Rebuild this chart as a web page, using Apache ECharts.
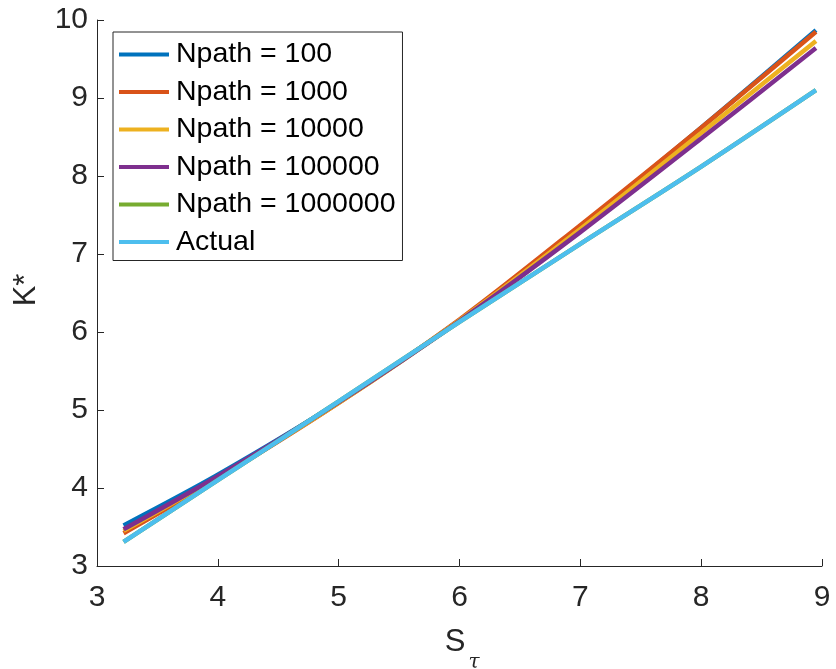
<!DOCTYPE html>
<html lang="en">
<head>
    <meta charset="UTF-8">
    <title>K* vs S</title>
    <style>
        html,body{padding: 0;margin: 0;background: #fff;}
        #chart{width: 836px;height: 669px;}
    </style>
    <script src="https://cdn.jsdelivr.net/npm/echarts@6/dist/echarts.min.js"></script>
</head>
<body>
<div id="chart"></div>
<script>
    // S_tau sample points
    var sVals = [3.22, 4, 5, 6, 7, 8, 8.95];
    var seriesNames = ['Npath = 100', 'Npath = 1000', 'Npath = 10000', 'Npath = 100000', 'Npath = 1000000', 'Actual'];
    var kNpath100 = [3.52, 4.17, 5.10, 6.15, 7.35, 8.62, 9.87];
    var kNpath1000 = [3.42, 4.12, 5.09, 6.16, 7.37, 8.62, 9.85];
    var kNpath10000 = [3.45, 4.14, 5.09, 6.15, 7.32, 8.55, 9.73];
    var kNpath100000 = [3.47, 4.15, 5.10, 6.14, 7.28, 8.48, 9.64];
    var kNpath1000000 = [3.31, 4.10, 5.11, 6.13, 7.13, 8.12, 9.10];
    var kActual = [3.31, 4.10, 5.11, 6.13, 7.13, 8.12, 9.10];
    var xTicks = [3, 4, 5, 6, 7, 8, 9];
    var yTicks = [3, 4, 5, 6, 7, 8, 9, 10];

    var colors = ['#0072BD', '#D95319', '#EDB120', '#7E2F8E', '#77AC30', '#4DBEEE'];
    var allK = [kNpath100, kNpath1000, kNpath10000, kNpath100000, kNpath1000000, kActual];
    var font = "'Liberation Sans', Arial, sans-serif";

    function pairs(ys){
        var out = [];
        for (var i = 0; i < sVals.length; i++) out.push([sVals[i], ys[i]]);
        return out;
    }

    var series = [];
    for (var i = 0; i < seriesNames.length; i++) {
        series.push({
            name: seriesNames[i],
            type: 'line',
            data: pairs(allK[i]),
            smooth: 0.3,
            showSymbol: false,
            lineStyle: {width: 4.5, color: colors[i]},
            itemStyle: {color: colors[i]},
            z: 2 + i
        });
    }

    var myChart = echarts.init(document.getElementById('chart'));
    var axisTxt = {color: '#262626', fontSize: 30, fontFamily: font};
    myChart.setOption({
        animation: false,
        color: colors,
        grid: {left: 97, right: 14, top: 20, bottom: 103},
        xAxis: {
            type: 'value', min: xTicks[0], max: xTicks[xTicks.length - 1], interval: 1,
            axisLine: {lineStyle: {color: '#262626', width: 1}},
            axisTick: {inside: true, length: 7, lineStyle: {color: '#262626'}},
            axisLabel: Object.assign({margin: 17}, axisTxt),
            splitLine: {show: false}
        },
        yAxis: {
            type: 'value', min: yTicks[0], max: yTicks[yTicks.length - 1], interval: 1,
            axisLine: {show: true, lineStyle: {color: '#262626', width: 1}},
            axisTick: {show: true, inside: true, length: 7, lineStyle: {color: '#262626'}},
            axisLabel: Object.assign({margin: 9}, axisTxt),
            splitLine: {show: false}
        },
        legend: {
            data: seriesNames,
            orient: 'vertical',
            left: 113, top: 32,
            icon: 'rect',
            itemWidth: 50, itemHeight: 4,
            itemGap: 8.5,
            padding: [8, 7, 4, 6],
            borderColor: '#262626', borderWidth: 1,
            backgroundColor: '#fff',
            textStyle: {color: '#000', fontSize: 28.5, fontFamily: font, lineHeight: 28, padding: [0, 0, 0, 2]}
        },
        graphic: [
            {type: 'text', x: 26, y: 290, rotation: Math.PI / 2,
             style: {text: 'K*', fill: '#262626', fontSize: 31, fontFamily: font, align: 'center', verticalAlign: 'middle'}},
            {type: 'text', x: 455, y: 642,
             style: {text: 'S', fill: '#262626', fontSize: 31, fontFamily: font, align: 'center', verticalAlign: 'middle'}},
            {type: 'text', x: 474, y: 663,
             style: {text: 'τ', fill: '#262626', fontSize: 20, fontStyle: 'italic', fontFamily: "'DejaVu Serif', serif", align: 'center', verticalAlign: 'middle'}}
        ],
        series: series
    });
</script>
</body>
</html>
